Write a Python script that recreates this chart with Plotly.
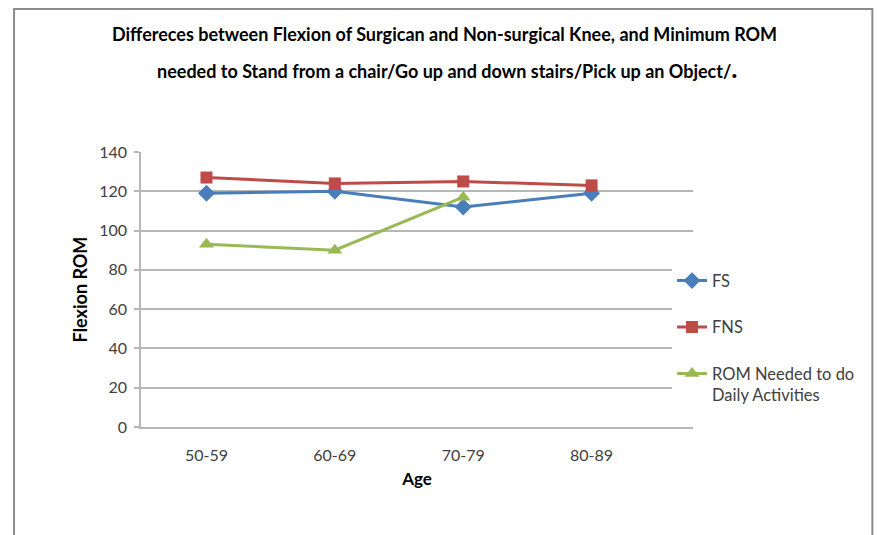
import plotly.graph_objects as go

# Age groups and knee flexion range of motion (degrees)
age_groups = ["50-59", "60-69", "70-79", "80-89"]
fs_values = [119, 120, 112, 119]          # flexion, surgical knee
fns_values = [127, 124, 125, 123]         # flexion, non-surgical knee
rom_needed = [93, 90, 117, None]          # ROM needed for daily activities
y_ticks = [0, 20, 40, 60, 80, 100, 120, 140]

FONT = "Lato"
GRID = "#B7B7B7"
TEXT = "#404040"

series = [
    ("FS", fs_values, "#4A7EBB", "diamond", 13),
    ("FNS", fns_values, "#BE4B48", "square", 12),
    ("ROM Needed to do<br>Daily Activities", rom_needed, "#98B954", "triangle-up", 13),
]

fig = go.Figure()
for i, (name, vals, color, symbol, size) in enumerate(series):
    fig.add_trace(go.Scatter(
        x=list(range(len(age_groups))),
        y=vals,
        name=name,
        mode="lines+markers",
        line=dict(color=color, width=3),
        marker=dict(symbol=symbol, size=size, color=color),
        legendgroup=f"g{i}",
        connectgaps=False,
    ))

fig.update_layout(
    width=877,
    height=535,
    margin=dict(l=141, r=184, t=152, b=108),
    paper_bgcolor="white",
    plot_bgcolor="white",
    font=dict(family=FONT, size=15, color=TEXT),
    showlegend=True,
    legend=dict(
        x=0.962, y=0.595, xanchor="left", yanchor="top",
        font=dict(family=FONT, size=16.5, color=TEXT),
        tracegroupgap=22,
        valign="top",
        bgcolor="rgba(255,255,255,1)",
        itemwidth=30,
    ),
    shapes=[
        dict(type="rect", xref="paper", yref="paper",
             x0=-0.23, x1=1.325, y0=-0.5, y1=1.52,
             line=dict(color="#8C8C8C", width=2), layer="below"),
    ],
    annotations=[
        dict(text="<b>Differeces between Flexion of Surgican and Non-surgical Knee, and Minimum ROM</b>",
             xref="paper", yref="paper", x=0.55, y=1.43, xanchor="center", yanchor="middle",
             showarrow=False, font=dict(family=FONT, size=18, color="black")),
        dict(text="<b>needed to Stand from a chair/Go up and down stairs/Pick up an Object/</b><span style='font-size:26px'><b>.</b></span>",
             xref="paper", yref="paper", x=0.555, y=1.306, xanchor="center", yanchor="middle",
             showarrow=False, font=dict(family=FONT, size=18, color="black")),
    ],
)

fig.update_xaxes(
    range=[-0.51, 3.79],
    tickmode="array",
    tickvals=list(range(len(age_groups))),
    ticktext=age_groups,
    showgrid=False,
    showline=True,
    linecolor=GRID,
    linewidth=1.5,
    ticks="",
    ticklabelstandoff=13,
    tickfont=dict(family=FONT, size=16, color=TEXT),
    title=dict(text="<b>Age</b>", font=dict(family=FONT, size=17, color="black"), standoff=10),
    zeroline=False,
)

fig.update_yaxes(
    range=[0, 140],
    tickmode="array",
    tickvals=y_ticks,
    showgrid=True,
    gridcolor=GRID,
    gridwidth=1.5,
    showline=True,
    linecolor=GRID,
    linewidth=1.5,
    ticks="outside",
    ticklen=5,
    tickcolor=GRID,
    tickwidth=1.5,
    ticklabelstandoff=4,
    tickfont=dict(family=FONT, size=16, color=TEXT),
    title=dict(text="<b>Flexion ROM</b>", font=dict(family=FONT, size=18, color="black"), standoff=7),
    zeroline=False,
)

fig.write_html("out.html")
